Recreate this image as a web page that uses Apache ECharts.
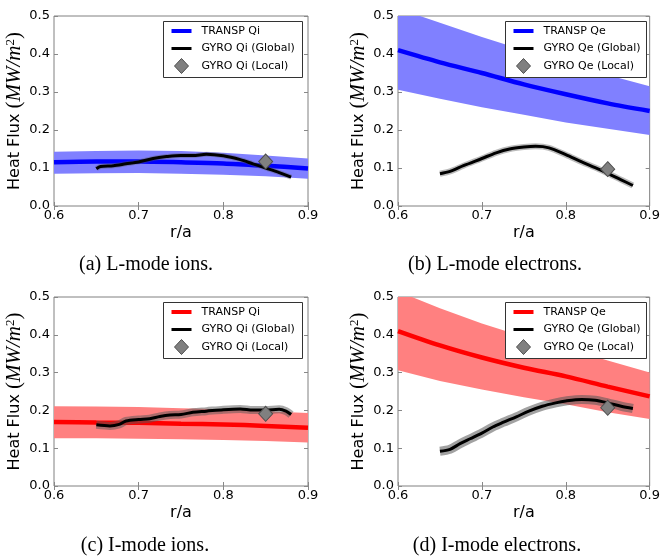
<!DOCTYPE html>
<html><head><meta charset="utf-8">
<script src="https://cdn.jsdelivr.net/npm/echarts@6/dist/echarts.min.js"></script>
<style>html,body{margin:0;padding:0;background:#fff}#c{width:663px;height:558px}</style>
</head><body><div id="c"></div>
<script>
// ---- shared axes ----
const xTickLabels = ['0.6', '0.7', '0.8', '0.9'];
const yTickLabels = ['0.0', '0.1', '0.2', '0.3', '0.4', '0.5'];
const bandX = [0.60, 0.65, 0.70, 0.75, 0.80, 0.85, 0.90];

// ---- (a) L-mode ions ----
const aTranspQi     = [0.115, 0.117, 0.117, 0.115, 0.112, 0.106, 0.099];
const aTranspQiHigh = [0.143, 0.145, 0.146, 0.145, 0.140, 0.133, 0.125];
const aTranspQiLow  = [0.085, 0.086, 0.087, 0.085, 0.082, 0.078, 0.072];
const aGyroX  = [0.65, 0.655, 0.67, 0.685, 0.70, 0.717, 0.733, 0.75, 0.764, 0.78, 0.80, 0.82, 0.835, 0.85, 0.866, 0.88];
const aGyroQi = [0.098, 0.104, 0.106, 0.111, 0.116, 0.125, 0.130, 0.133, 0.133, 0.136, 0.132, 0.122, 0.111, 0.100, 0.088, 0.076];
const aLocalQi = [0.85, 0.117];

// ---- (b) L-mode electrons ----
const bTranspQe     = [0.410, 0.378, 0.350, 0.320, 0.294, 0.270, 0.250];
const bTranspQeHigh = [0.520, 0.482, 0.445, 0.410, 0.376, 0.345, 0.315];
const bTranspQeLow  = [0.306, 0.282, 0.260, 0.240, 0.220, 0.203, 0.187];
const bGyroX  = [0.65, 0.662, 0.678, 0.70, 0.717, 0.733, 0.75, 0.764, 0.78, 0.80, 0.819, 0.835, 0.85, 0.866, 0.88];
const bGyroQe = [0.085, 0.091, 0.106, 0.125, 0.140, 0.150, 0.155, 0.157, 0.153, 0.135, 0.116, 0.101, 0.086, 0.069, 0.054];
const bLocalQe = [0.85, 0.097];

// ---- (c) I-mode ions ----
const cTranspQi     = [0.169, 0.168, 0.167, 0.165, 0.163, 0.159, 0.154];
const cTranspQiHigh = [0.211, 0.210, 0.209, 0.206, 0.203, 0.198, 0.193];
const cTranspQiLow  = [0.126, 0.126, 0.125, 0.124, 0.122, 0.119, 0.115];
const cGyroX  = [0.65, 0.666, 0.677, 0.685, 0.70, 0.713, 0.725, 0.737, 0.75, 0.764, 0.78, 0.80, 0.82, 0.835, 0.85, 0.866, 0.874, 0.88];
const cGyroQi = [0.162, 0.159, 0.163, 0.172, 0.176, 0.178, 0.184, 0.188, 0.189, 0.195, 0.198, 0.202, 0.204, 0.201, 0.201, 0.203, 0.198, 0.189];
const cLocalQi = [0.85, 0.191];

// ---- (d) I-mode electrons ----
const dTranspQe     = [0.410, 0.372, 0.340, 0.313, 0.290, 0.263, 0.237];
const dTranspQeHigh = [0.515, 0.470, 0.430, 0.395, 0.365, 0.332, 0.300];
const dTranspQeLow  = [0.306, 0.278, 0.255, 0.235, 0.216, 0.195, 0.177];
const dGyroX  = [0.65, 0.662, 0.674, 0.686, 0.70, 0.713, 0.725, 0.741, 0.756, 0.772, 0.788, 0.80, 0.819, 0.835, 0.85, 0.866, 0.88];
const dGyroQe = [0.092, 0.097, 0.112, 0.125, 0.140, 0.156, 0.168, 0.183, 0.198, 0.211, 0.220, 0.225, 0.229, 0.227, 0.220, 0.211, 0.205];
const dLocalQe = [0.85, 0.207];

const legendNamesI = ['TRANSP Qi', 'GYRO Qi (Global)', 'GYRO Qi (Local)'];
const legendNamesE = ['TRANSP Qe', 'GYRO Qe (Global)', 'GYRO Qe (Local)'];
const captions = ['(a) L-mode ions.', '(b) L-mode electrons.', '(c) I-mode ions.', '(d) I-mode electrons.'];

const panels = [
  {grid:{left:54, top:16, width:254, height:190}, color:'#0000ff', band:'#8080ff',
   mid:aTranspQi, hi:aTranspQiHigh, lo:aTranspQiLow, gx:aGyroX, gy:aGyroQi, local:aLocalQi,
   halo:5, haloOp:0.35, names:legendNamesI, cap:captions[0], capX:146, capY:265, legW:139},
  {grid:{left:398, top:16, width:254, height:190}, color:'#0000ff', band:'#8080ff',
   mid:bTranspQe, hi:bTranspQeHigh, lo:bTranspQeLow, gx:bGyroX, gy:bGyroQe, local:bLocalQe,
   halo:6, haloOp:0.4, names:legendNamesE, cap:captions[1], capX:495, capY:265, legW:141},
  {grid:{left:54, top:297, width:254, height:189}, color:'#ff0000', band:'#ff8080',
   mid:cTranspQi, hi:cTranspQiHigh, lo:cTranspQiLow, gx:cGyroX, gy:cGyroQi, local:cLocalQi,
   halo:8, haloOp:0.5, names:legendNamesI, cap:captions[2], capX:145, capY:546, legW:139},
  {grid:{left:398, top:297, width:254, height:189}, color:'#ff0000', band:'#ff8080',
   mid:dTranspQe, hi:dTranspQeHigh, lo:dTranspQeLow, gx:dGyroX, gy:dGyroQe, local:dLocalQe,
   halo:9, haloOp:0.55, names:legendNamesE, cap:captions[3], capX:497, capY:546, legW:141}
];

const FONT = 'DejaVu Sans';
const xMin = parseFloat(xTickLabels[0]), xMax = parseFloat(xTickLabels[xTickLabels.length-1]);
const yMin = parseFloat(yTickLabels[0]), yMax = parseFloat(yTickLabels[yTickLabels.length-1]);
const tickStyle = {inside:true, length:4, lineStyle:{color:'#888', width:1}};

const option = {animation:false, grid:[], xAxis:[], yAxis:[], series:[], graphic:[]};

panels.forEach((p, i) => {
  option.grid.push(Object.assign({show:true, borderColor:'#808080', borderWidth:1, backgroundColor:'transparent'}, p.grid));
  option.xAxis.push({
    gridIndex:i, type:'value', min:xMin, max:xMax, interval:0.1,
    name:'r/a', nameLocation:'middle', nameGap:19,
    nameTextStyle:{fontFamily:FONT, fontSize:16, color:'#000'},
    axisLine:{show:false}, axisTick:tickStyle, splitLine:{show:false},
    axisLabel:{margin:3, fontFamily:FONT, fontSize:13, color:'#000', showMinLabel:true, showMaxLabel:true,
      formatter:v => xTickLabels.find(t => Math.abs(parseFloat(t)-v) < 1e-6) || ''}
  });
  option.xAxis.push({
    gridIndex:i, type:'value', position:'top', min:xMin, max:xMax, interval:0.1,
    axisLine:{show:false}, axisTick:tickStyle, axisLabel:{show:false}, splitLine:{show:false}
  });
  option.yAxis.push({
    gridIndex:i, type:'value', min:yMin, max:yMax, interval:0.1,
    name:'{a|Heat Flux }{b|(}{c|MW/m}{d|2}{b|)}', nameLocation:'middle', nameGap:27,
    nameTextStyle:{fontFamily:FONT, fontSize:16, color:'#000', rich:{
      a:{fontFamily:FONT, fontSize:16, lineHeight:22, color:'#000'},
      b:{fontFamily:'Liberation Serif', fontSize:21, lineHeight:22, color:'#000'},
      c:{fontFamily:'Liberation Serif', fontStyle:'italic', fontSize:21, lineHeight:22, color:'#000'},
      d:{fontFamily:'Liberation Serif', fontSize:13, lineHeight:13, verticalAlign:'top', color:'#000'}
    }},
    axisLine:{show:false}, axisTick:tickStyle, splitLine:{show:false},
    axisLabel:{margin:4, fontFamily:FONT, fontSize:13, color:'#000', showMinLabel:true, showMaxLabel:true,
      formatter:v => yTickLabels.find(t => Math.abs(parseFloat(t)-v) < 1e-6) || ''}
  });
  option.yAxis.push({
    gridIndex:i, type:'value', position:'right', min:yMin, max:yMax, interval:0.1,
    axisLine:{show:false}, axisTick:tickStyle, axisLabel:{show:false}, splitLine:{show:false}
  });
  const xi = 2*i, yi = 2*i;
  // uncertainty band: polygon between low and high edges, placed by the axes
  option.series.push({
    type:'custom', xAxisIndex:xi, yAxisIndex:yi, silent:true, clip:true, z:1,
    data:bandX.map((x, k) => [x, p.lo[k], p.hi[k]]),
    encode:{x:0, y:[1, 2]},
    renderItem:(params, api) => {
      if (params.dataIndex !== 0) return null;
      const upper = bandX.map((x, k) => api.coord([x, p.hi[k]]));
      const lower = bandX.map((x, k) => api.coord([x, p.lo[k]])).reverse();
      return {type:'polygon', shape:{points:upper.concat(lower)}, style:{fill:p.band}};
    }
  });
  option.series.push({
    type:'line', name:p.names[0], xAxisIndex:xi, yAxisIndex:yi, symbol:'none', smooth:0.3,
    data:bandX.map((x, k) => [x, p.mid[k]]), lineStyle:{color:p.color, width:4.5}, z:2
  });
  option.series.push({
    type:'line', xAxisIndex:xi, yAxisIndex:yi, symbol:'none', smooth:0.3, silent:true,
    data:p.gx.map((x, k) => [x, p.gy[k]]), lineStyle:{color:'#555', width:p.halo, opacity:p.haloOp}, z:3
  });
  option.series.push({
    type:'line', name:p.names[1], xAxisIndex:xi, yAxisIndex:yi, symbol:'none', smooth:0.3,
    data:p.gx.map((x, k) => [x, p.gy[k]]), lineStyle:{color:'#000', width:3}, z:4
  });
  option.series.push({
    type:'scatter', name:p.names[2], xAxisIndex:xi, yAxisIndex:yi, symbol:'diamond', symbolSize:[14, 15],
    data:[p.local], itemStyle:{color:'#808080', borderColor:'#4d4d4d', borderWidth:1, opacity:1}, z:5
  });

  // legend box (drawn as graphics)
  const gx = p.grid.left + p.grid.width - 6 - p.legW + 0.5;
  const gy = p.grid.top + 5 + 0.5;
  const rows = [9.5, 27, 44.5];
  option.graphic.push({
    type:'group', x:gx, y:gy, z:100, children:[
      {type:'rect', z:100, shape:{x:0, y:0, width:p.legW, height:56}, style:{fill:'#fff', stroke:'#333', lineWidth:1}},
      {type:'line', z:101, shape:{x1:8, y1:rows[0], x2:28, y2:rows[0]}, style:{stroke:p.color, lineWidth:4}},
      {type:'line', z:101, shape:{x1:8, y1:rows[1], x2:28, y2:rows[1]}, style:{stroke:'#000', lineWidth:3}},
      {type:'polygon', z:101, shape:{points:[[18, rows[2]-7.5], [25, rows[2]], [18, rows[2]+7.5], [11, rows[2]]]},
        style:{fill:'#808080', stroke:'#4d4d4d', lineWidth:1}},
      {type:'text', z:101, x:38, y:rows[0], style:{text:p.names[0], fontFamily:FONT, fontSize:11, fill:'#000', verticalAlign:'middle'}},
      {type:'text', z:101, x:38, y:rows[1], style:{text:p.names[1], fontFamily:FONT, fontSize:11, fill:'#000', verticalAlign:'middle'}},
      {type:'text', z:101, x:38, y:rows[2], style:{text:p.names[2], fontFamily:FONT, fontSize:11, fill:'#000', verticalAlign:'middle'}}
    ]
  });
  option.graphic.push({
    type:'text', x:p.capX, y:p.capY, z:100,
    style:{text:p.cap, fontFamily:'Liberation Serif', fontSize:20, fill:'#000', align:'center', verticalAlign:'middle'}
  });
});

const chart = echarts.init(document.getElementById('c'), null, {renderer:'canvas'});
chart.setOption(option);
</script>
</body></html>
